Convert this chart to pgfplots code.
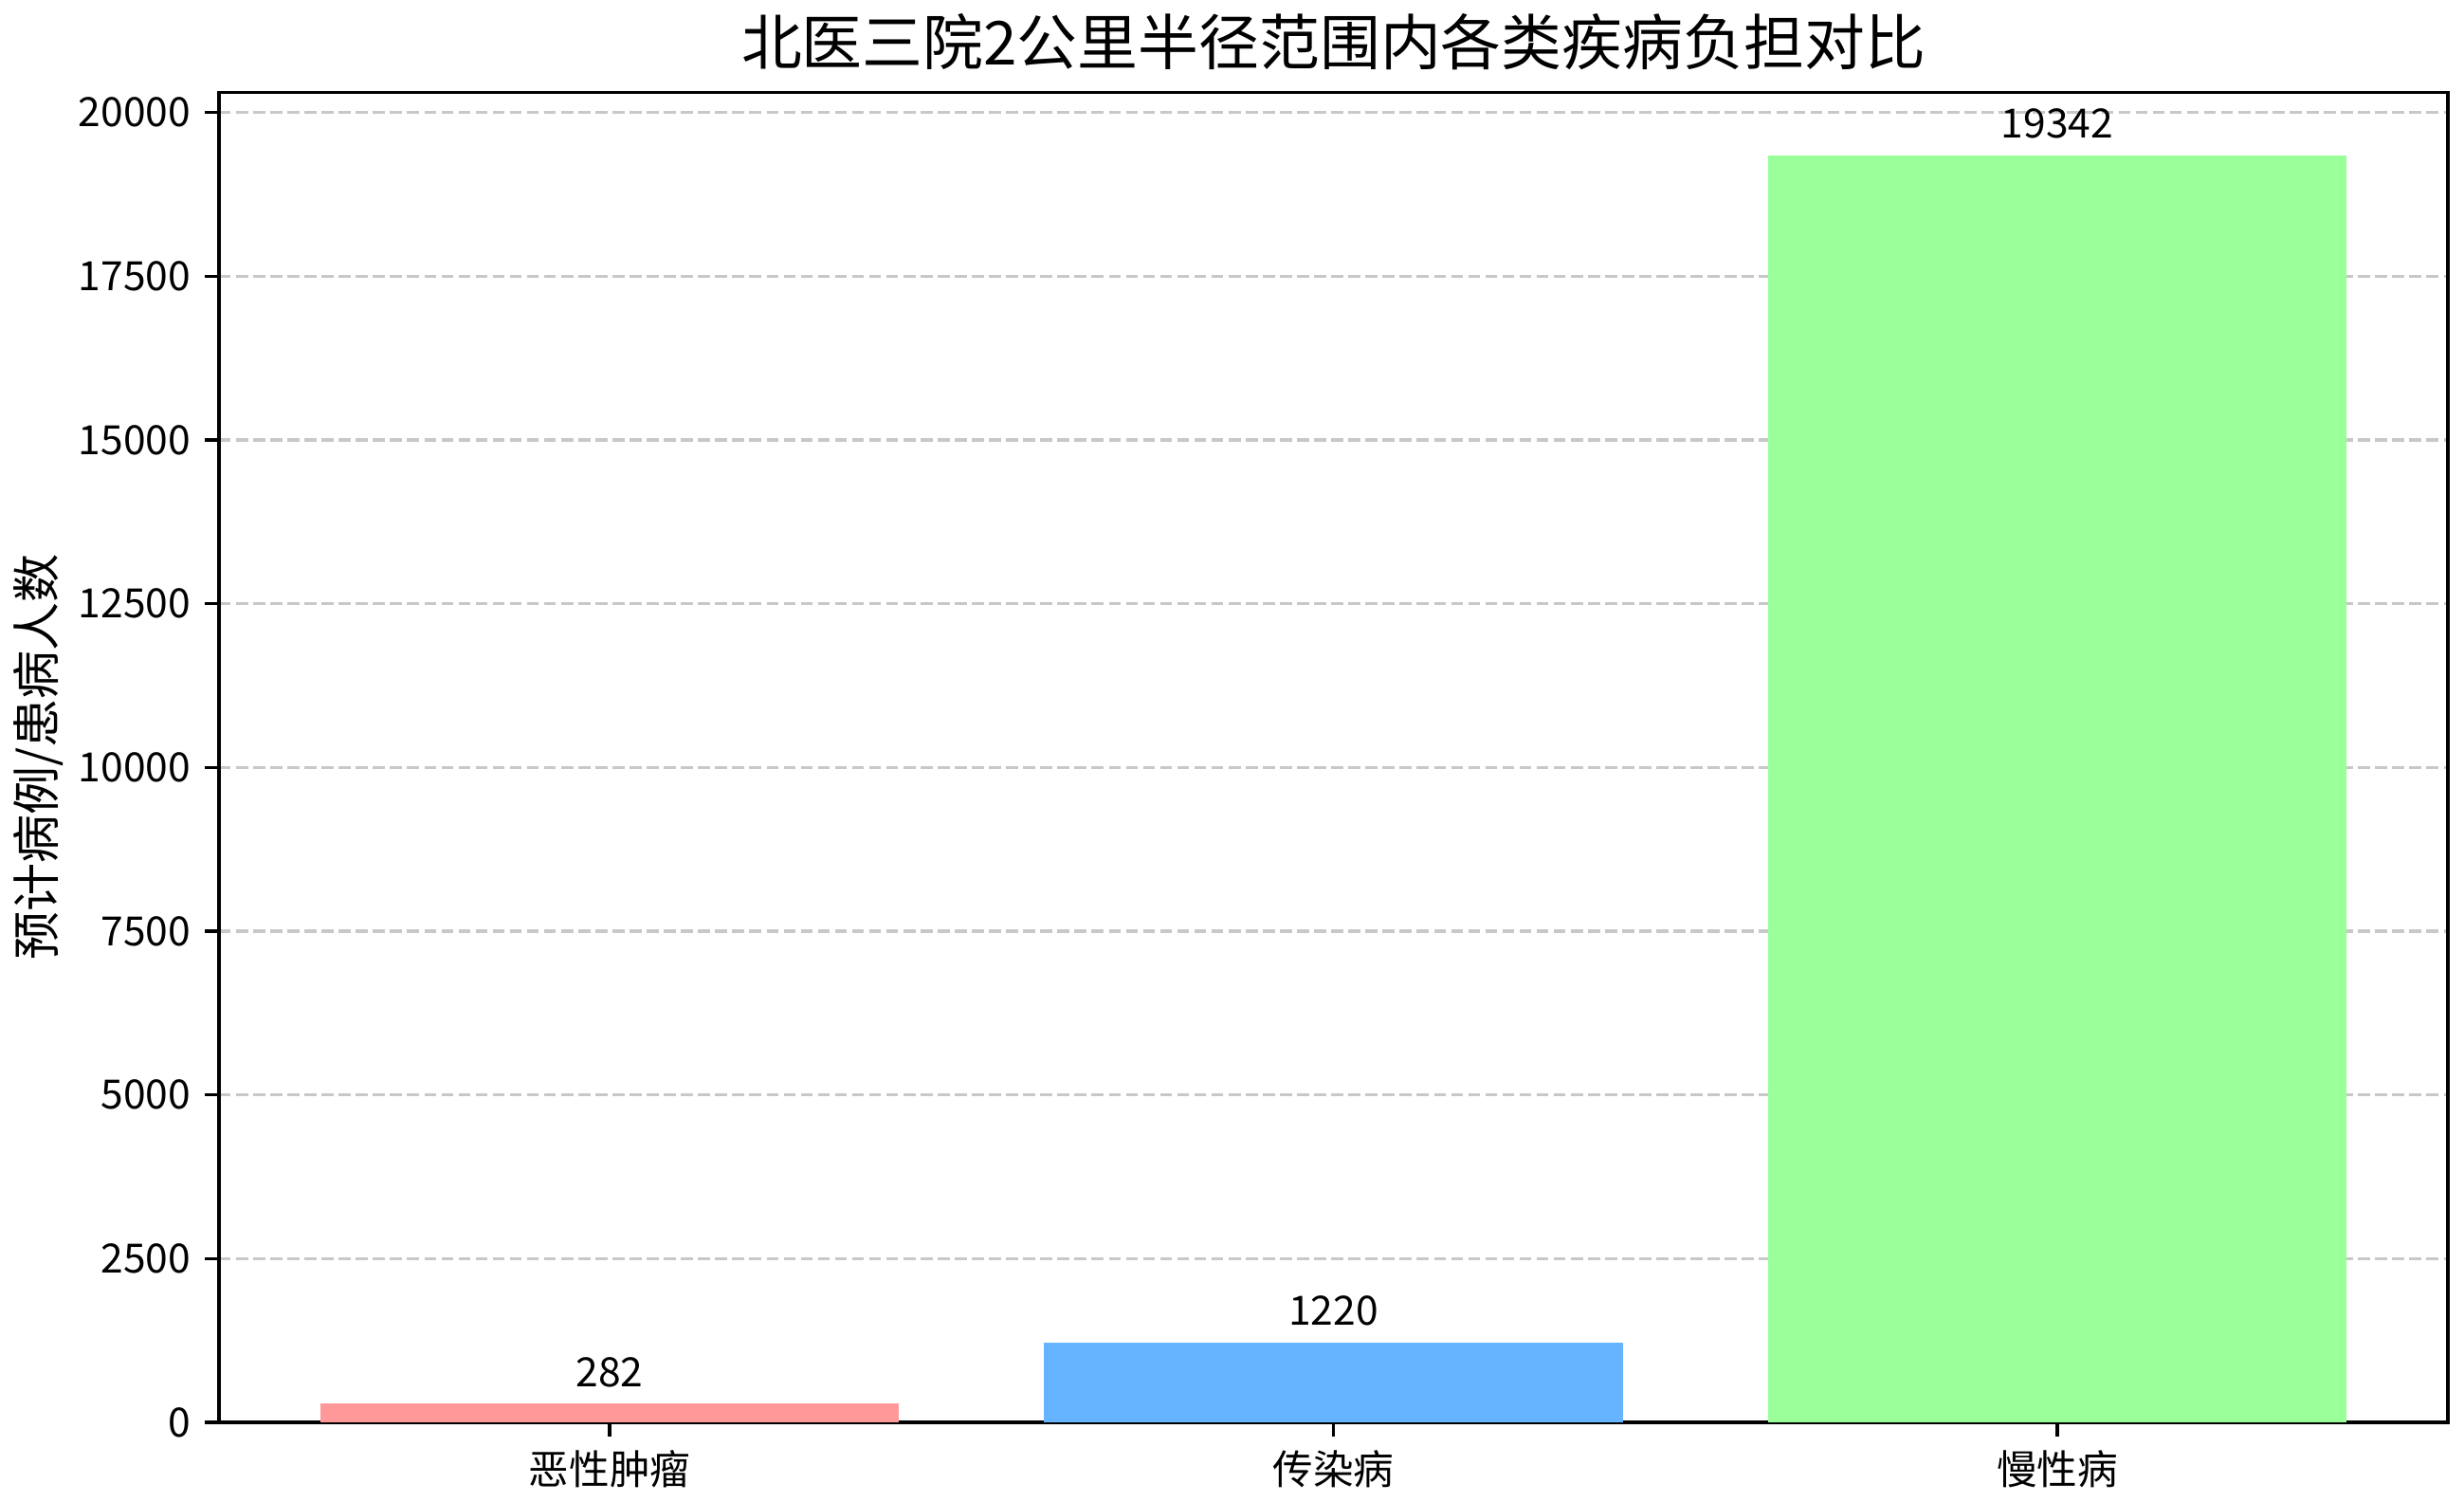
\documentclass[border=0pt]{standalone}
\usepackage{fontspec}
\setmainfont{Noto Sans CJK SC}
\usepackage{pgfplots}
\pgfplotsset{compat=1.18}

\definecolor{c1}{HTML}{FF9999}
\definecolor{c2}{HTML}{66B3FF}
\definecolor{c3}{HTML}{99FF99}
\definecolor{gridc}{HTML}{C8C8C8}

\begin{document}
\begin{tikzpicture}
\begin{axis}[
    width=19.41cm, height=11.58cm,
    scale only axis,
    ybar, bar width=0.8, bar shift=0pt,
    xmin=-0.54, xmax=2.54,
    ymin=0, ymax=20309,
    xtick={0,1,2},
    xticklabels={恶性肿瘤,传染病,慢性病},
    ytick={0,2500,5000,7500,10000,12500,15000,17500,20000},
    scaled y ticks=false,
    /pgf/number format/assume math mode=true,
    /pgf/number format/1000 sep={},
    yticklabel style={/pgf/number format/fixed, /pgf/number format/precision=0},
    tick label style={font=\fontsize{10}{12}\selectfont},
    tick align=outside,
    xtick pos=lower, ytick pos=left,
    major tick length=3.5pt,
    every tick/.style={black, line width=0.8pt},
    axis line style={line width=0.8pt},
    ymajorgrids,
    major grid style={gridc, line width=0.8pt, dash pattern=on 2.96pt off 1.28pt},
    title={北医三院2公里半径范围内各类疾病负担对比},
    title style={font=\fontsize{15}{18}\selectfont, yshift=-4pt},
    ylabel={预计病例/患病人数},
    ylabel style={font=\fontsize{12}{14}\selectfont},
    ylabel shift=-3pt,
    nodes near coords,
    nodes near coords style={font=\fontsize{10}{12}\selectfont, anchor=south, inner sep=0pt, yshift=4pt,
        /pgf/number format/fixed, /pgf/number format/precision=0, /pgf/number format/1000 sep={}},
]
\addplot[fill=c1, draw=none] coordinates {(0,282)};
\addplot[fill=c2, draw=none] coordinates {(1,1220)};
\addplot[fill=c3, draw=none] coordinates {(2,19342)};
\end{axis}
\path (current axis.east) ++(0.14cm,0) coordinate (r);
\end{tikzpicture}
\end{document}
